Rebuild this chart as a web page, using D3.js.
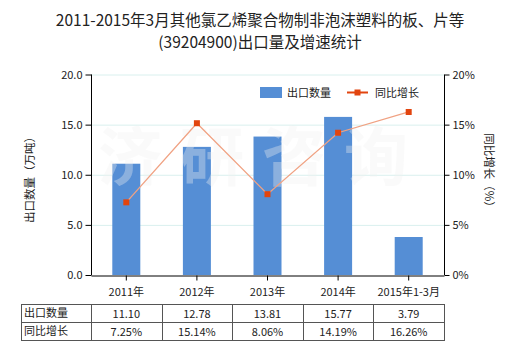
<!DOCTYPE html>
<html><head><meta charset="utf-8">
<script src="https://cdn.jsdelivr.net/npm/d3@7/dist/d3.min.js"></script>
<style>body{margin:0;background:#fff;}svg{display:block;font-family:"Microsoft YaHei","Noto Sans CJK SC",sans-serif;}</style>
</head><body><svg id="c" width="520" height="350"></svg>
<script>
const categories = ["2011年","2012年","2013年","2014年","2015年1-3月"];
const exportQty = [11.10, 12.78, 13.81, 15.77, 3.79];
const growth = [7.25, 15.14, 8.06, 14.19, 16.26];
const qtyLabels = ["11.10","12.78","13.81","15.77","3.79"];
const growthLabels = ["7.25%","15.14%","8.06%","14.19%","16.26%"];
const leftTicks = [0,5,10,15,20];
const rightTicks = [0,5,10,15,20];
const titleLines = ["2011-2015年3月其他氯乙烯聚合物制非泡沫塑料的板、片等","(39204900)出口量及增速统计"];
const seriesNames = ["出口数量","同比增长"];
const watermark = ["济","研","咨","询"];

const svg = d3.select("#c");
const L = 91, R = 444, T = 74.5, B = 275;
const x = d3.scaleBand().domain(categories).range([L, R]);
const yL = d3.scaleLinear().domain([0,20]).range([B, T]);
const yR = d3.scaleLinear().domain([0,20]).range([B, T]);
const barColor = "#558ed5", lineColor = "#f0a283", markColor = "#e2450f";

// title
svg.append("g").selectAll("text").data(titleLines).join("text")
  .attr("x", 260).attr("y", (d,i)=>26 + i*22).attr("text-anchor","middle")
  .attr("font-size",15.5).attr("fill","#222").text(d=>d);

// gridlines
svg.append("g").selectAll("line").data(leftTicks.filter(d=>d>0)).join("line")
  .attr("x1",L).attr("x2",R).attr("y1",d=>yL(d)+0.5).attr("y2",d=>yL(d)+0.5)
  .attr("stroke","#d9f0ee").attr("stroke-width",1);

// bars
const bw = 28;
svg.append("g").selectAll("rect").data(exportQty).join("rect")
  .attr("x",(d,i)=>x(categories[i]) + x.bandwidth()/2 - bw/2)
  .attr("width",bw).attr("y",d=>yL(d)).attr("height",d=>B-yL(d))
  .attr("fill",barColor);

// watermark
svg.append("g").selectAll("text").data(watermark).join("text")
  .attr("x",(d,i)=>130 + i*82).attr("y",180).attr("text-anchor","middle")
  .attr("font-size",64).attr("font-weight","bold")
  .attr("fill","#f0f0f0").attr("fill-opacity",0.35).text(d=>d);

// line
const line = d3.line().x((d,i)=>x(categories[i]) + x.bandwidth()/2).y(d=>yR(d));
svg.append("path").datum(growth).attr("d",line).attr("fill","none")
  .attr("stroke",lineColor).attr("stroke-width",1.3);
svg.append("g").selectAll("rect").data(growth).join("rect")
  .attr("x",(d,i)=>x(categories[i]) + x.bandwidth()/2 - 3).attr("y",d=>yR(d)-3)
  .attr("width",6).attr("height",6).attr("fill",markColor);

// axes
const axL = d3.axisLeft(yL).tickValues(leftTicks).tickFormat(d3.format(".1f")).tickSize(6).tickSizeOuter(0);
const gL = svg.append("g").attr("transform",`translate(${L+0.5},0)`).call(axL);
const axR = d3.axisRight(yR).tickValues(rightTicks).tickFormat(d=>d+"%").tickSize(5).tickSizeOuter(0);
const gR = svg.append("g").attr("transform",`translate(${R+0.5},0)`).call(axR);
const axB = d3.axisBottom(x).tickSize(5).tickSizeOuter(0).tickPadding(8);
const gB = svg.append("g").attr("transform",`translate(0,${B+0.5})`).call(axB);
[gL,gR,gB].forEach(g=>{
  g.selectAll("path,line").attr("stroke","#000");
  g.selectAll("text").attr("font-size",11).attr("fill","#222").attr("font-family",'"Microsoft YaHei","Noto Sans CJK SC",sans-serif');
});
gL.select(".domain").attr("d",`M0,${T}V${B}`);
gR.select(".domain").attr("d",`M0,${T}V${B}`);

// axis titles
svg.append("text").attr("transform",`translate(34,177) rotate(-90)`).attr("text-anchor","middle")
  .attr("font-size",11.5).attr("fill","#222").text("出口数量（万吨）");
svg.append("text").attr("transform",`translate(485,173) rotate(90)`).attr("text-anchor","middle")
  .attr("font-size",11.5).attr("fill","#222").text("同比增长（%）");

// legend
const lg = svg.append("g");
lg.append("rect").attr("x",260).attr("y",87).attr("width",22).attr("height",11).attr("fill",barColor);
lg.append("text").attr("x",287).attr("y",96.5).attr("font-size",11).attr("fill","#222").text(seriesNames[0]);
lg.append("line").attr("x1",347).attr("x2",368).attr("y1",92.5).attr("y2",92.5).attr("stroke",markColor).attr("stroke-width",2);
lg.append("rect").attr("x",354.5).attr("y",89.5).attr("width",6).attr("height",6).attr("fill",markColor);
lg.append("text").attr("x",375).attr("y",96.5).attr("font-size",11).attr("fill","#222").text(seriesNames[1]);

// table
const tTop = 304, rowH = 18, tLeft = 21;
const tg = svg.append("g");
const rows = [[seriesNames[0], qtyLabels],[seriesNames[1], growthLabels]];
rows.forEach((r,ri)=>{
  const yy = tTop + ri*rowH;
  tg.append("text").attr("x",tLeft+3).attr("y",yy+13).attr("font-size",11).attr("fill","#222").text(r[0]);
  r[1].forEach((v,ci)=>{
    tg.append("text").attr("x",x(categories[ci])+x.bandwidth()/2).attr("y",yy+13.5)
      .attr("text-anchor","middle").attr("font-size",11).attr("fill","#222").text(v);
  });
});
const stroke = "#555";
[0,1,2].forEach(i=>tg.append("line").attr("x1",tLeft).attr("x2",R).attr("y1",tTop+i*rowH+0.5).attr("y2",tTop+i*rowH+0.5).attr("stroke",stroke));
const vx = [tLeft].concat(categories.map(c=>x(c)+x.bandwidth()), [L]);
vx.forEach(v=>tg.append("line").attr("x1",Math.round(v)+0.5).attr("x2",Math.round(v)+0.5).attr("y1",tTop).attr("y2",tTop+2*rowH+1).attr("stroke",stroke));
</script></body></html>
